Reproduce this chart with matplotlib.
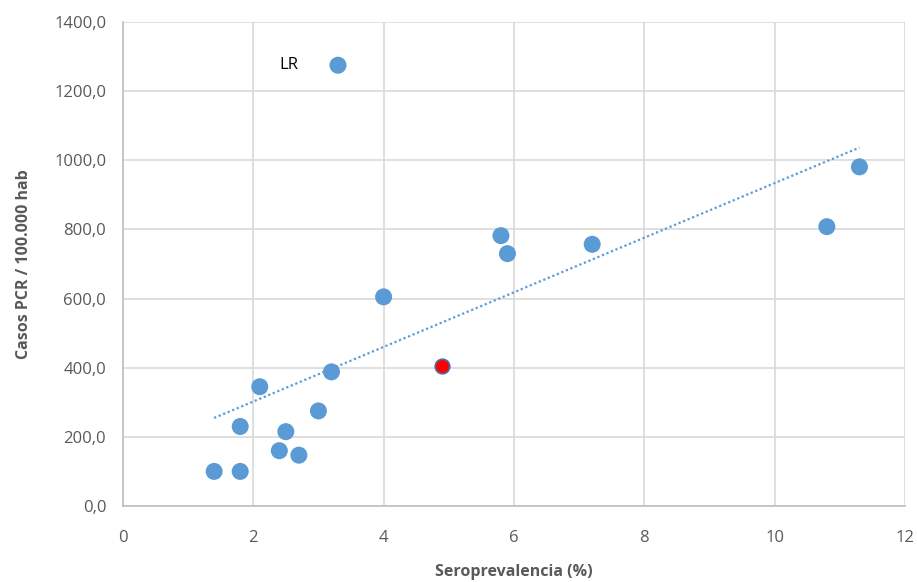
import numpy as np
import matplotlib.pyplot as plt

# Seroprevalence (%) vs PCR cases per 100,000 inhabitants
seroprev = [1.4, 1.8, 1.8, 2.1, 2.4, 2.5, 2.7, 3.0, 3.2, 4.0, 5.8, 5.9, 7.2, 10.8, 11.3]
casos = [100, 100, 230, 345, 160, 215, 147, 275, 388, 605, 782, 730, 757, 808, 981]

# La Rioja (labelled outlier) and highlighted point
lr_x, lr_y = [3.3], [1275]
red_x, red_y = [4.9], [406]

blue = "#5B9BD5"
grey_txt = "#595959"
grid_col = "#D9D9D9"

plt.rcParams["font.family"] = ["Open Sans", "DejaVu Sans"]

fig = plt.figure(figsize=(9.17, 5.82), dpi=100)
ax = fig.add_axes([0.134, 0.1306, 0.853, 0.8316])

# linear trend over every point
all_x = np.array(seroprev + lr_x + red_x)
all_y = np.array(casos + lr_y + red_y)
slope, icpt = np.polyfit(all_x, all_y, 1)
xt = np.array([all_x.min(), all_x.max()])
ax.plot(xt, slope * xt + icpt, ls=(0, (1, 1.2)), color=blue, lw=1.6, zorder=2)

ax.scatter(seroprev, casos, s=150, color=blue, edgecolors="none", zorder=3)
ax.scatter(lr_x, lr_y, s=150, color=blue, edgecolors="none", zorder=3)
ax.scatter(red_x, red_y, s=110, color="red", edgecolors="#4a6fa5", linewidths=1.2, zorder=3)
ax.text(lr_x[0] - 0.75, lr_y[0], "LR", fontsize=12, color="black", va="center", ha="center")

ax.set_xlim(0, 12)
ax.set_ylim(0, 1400)
ax.set_xticks(range(0, 13, 2))
ax.set_yticks(range(0, 1401, 200))
ax.set_yticklabels([f"{v},0" for v in range(0, 1401, 200)])
ax.tick_params(colors=grey_txt, labelsize=12, length=0, pad=12)
ax.tick_params(axis="x", pad=17)

ax.grid(True, color=grid_col, lw=1.2)
ax.set_axisbelow(True)
for side in ["top", "right"]:
    ax.spines[side].set_visible(False)
for side in ["left", "bottom"]:
    ax.spines[side].set_color("#BFBFBF")
    ax.spines[side].set_linewidth(1.2)

ax.set_xlabel("Seroprevalencia (%)", fontsize=11.5, fontweight="bold", color=grey_txt, labelpad=13)
ax.set_ylabel("Casos PCR / 100.000 hab", fontsize=11.5, fontweight="bold", color=grey_txt, labelpad=16)

fig.savefig("out.png", dpi=100)
